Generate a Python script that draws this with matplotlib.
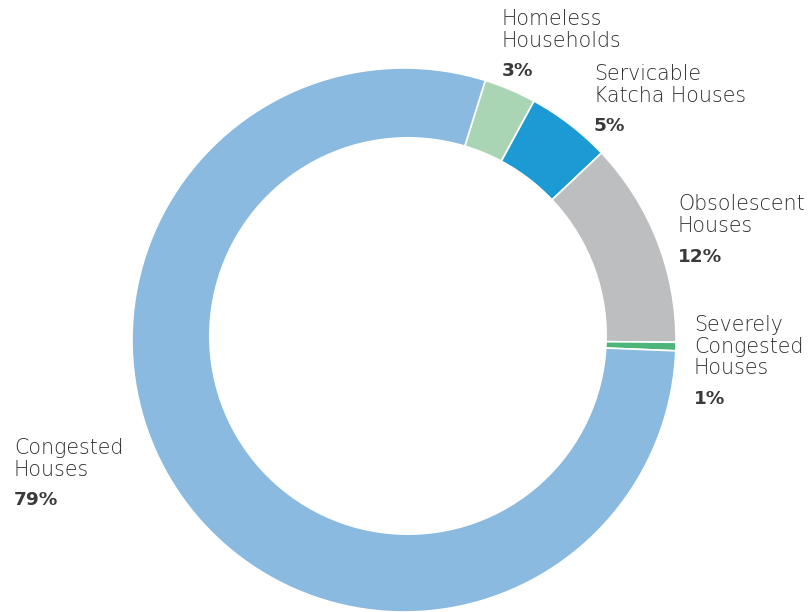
import matplotlib
matplotlib.use("Agg")
import matplotlib.pyplot as plt
from matplotlib.patches import Circle

categories = ["Homeless\nHouseholds", "Servicable\nKatcha Houses", "Obsolescent\nHouses",
              "Severely\nCongested\nHouses", "Congested\nHouses"]
values = [3.1, 5.0, 12.2, 0.5, 79.2]
pct_labels = ["3%", "5%", "12%", "1%", "79%"]
colors = ["#A9D5B4", "#1C9AD3", "#BDBEC0", "#4DB57A", "#8BBAE1"]

W, H = 809, 612
fig = plt.figure(figsize=(W / 100, H / 100), dpi=100)
ax = fig.add_axes([0, 0, 1, 1])

cx, cy, R = 404, H - 340, 272
ax.pie(values, colors=colors, startangle=72.6, counterclock=False,
       center=(cx, cy), radius=R, frame=True,
       wedgeprops=dict(edgecolor="white", linewidth=1.2))
# inner hole (slightly offset as in the reference)
ax.add_patch(Circle((408, H - 336), 199, facecolor="white", edgecolor="none", zorder=5))
ax.set_xlim(0, W)
ax.set_ylim(0, H)
ax.set_aspect("equal")
ax.axis("off")

# label anchors: x, baseline of first line (pixels from top)
anchors = [(502, 25), (594, 80), (678, 210.5), (694, 331), (14, 454)]
lh = 21.7
for cat, pct, (x, y) in zip(categories, pct_labels, anchors):
    lines = cat.split("\n")
    for i, line in enumerate(lines):
        ax.text(x, H - (y + i * lh), line, ha="left", va="baseline", fontsize=14.8,
                family="DejaVu Sans", fontweight=200, color="#2e2e2e", zorder=6)
    ax.text(x, H - (y + (len(lines) - 1) * lh + 29.5), pct, ha="left", va="baseline",
            fontsize=13.3, family="DejaVu Sans", fontweight="heavy", color="#3a3a3a", zorder=6)

fig.savefig("out.png", dpi=100)
